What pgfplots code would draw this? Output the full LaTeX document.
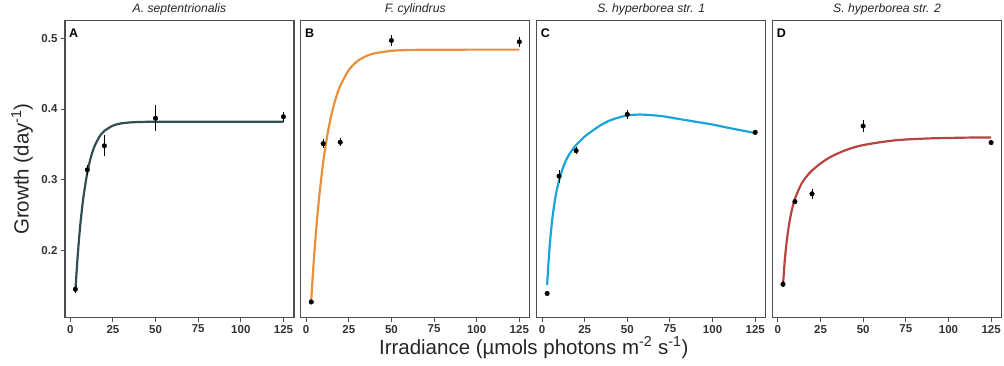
\documentclass[border=0pt]{standalone}
\usepackage{pgfplots}
\pgfplotsset{compat=1.18}
\usepackage{fontspec}
\setmainfont{Liberation Sans}
\definecolor{cA}{HTML}{2F4F55}
\definecolor{cB}{HTML}{E8903C}
\definecolor{cC}{HTML}{1BA3DB}
\definecolor{cD}{HTML}{B8443F}
\definecolor{framec}{HTML}{4D4D4D}

\tikzset{letter/.style={anchor=north west, inner sep=0pt, font=\bfseries\fontsize{12.5}{13}\selectfont, xshift=4pt, yshift=-8pt}}
\pgfplotsset{
  panel/.style={
    scale only axis, width=229pt, height=297pt,
    xmin=-3.1, xmax=131.1, ymin=0.105, ymax=0.525,
    xtick={0,25,50,75,100,125}, ytick={0.2,0.3,0.4,0.5},
    axis line style={framec, line width=1.3pt},
    tick style={framec, line width=1pt},
    tick align=outside, major tick length=4pt,
    xtick pos=bottom, ytick pos=left,
    tick label style={font=\bfseries\fontsize{11.5}{13}\selectfont, text=black!80},
    /pgf/number format/assume math mode=true,
    yticklabel style={/pgf/number format/fixed, /pgf/number format/precision=1, /pgf/number format/fixed zerofill},
    title style={font=\itshape\fontsize{12.2}{14}\selectfont, at={(0.5,1)}, anchor=base, yshift=2.5pt, text=black!85},
    anchor=south west,
  },
  pts/.style={only marks, mark=*, mark size=2.3pt, color=black,
    error bars/.cd, y dir=both, y explicit, error mark=none,
    error bar style={line width=0.9pt, black}},
  fit/.style={no marks, line width=2.2pt, smooth},
}

\pgfplotstableread{
x y e
3 0.145 0.005
10 0.314 0.007
20 0.348 0.015
50 0.387 0.018
125 0.389 0.007
}\ptsA
\pgfplotstableread{
x y e
3 0.127 0.003
10 0.351 0.006
20 0.353 0.006
50 0.497 0.008
125 0.495 0.007
}\ptsB
\pgfplotstableread{
x y e
3 0.139 0.003
10 0.305 0.009
20 0.341 0.005
50 0.3925 0.006
125 0.367 0.004
}\ptsC
\pgfplotstableread{
x y e
3 0.152 0.004
10 0.269 0.004
20 0.280 0.007
50 0.376 0.008
125 0.3525 0.004
}\ptsD

\begin{document}
\begin{tikzpicture}
\path (0,0) rectangle (1004pt,364pt);

\begin{axis}[panel, at={(65pt,48pt)}, title={A. septentrionalis}]
\addplot[fit, cA] coordinates {(3,0.142)(4,0.180)(5,0.212)(6,0.239)(7,0.261)(8,0.280)(10,0.310)(12,0.331)(14,0.346)(16,0.356)(18,0.364)(20,0.369)(25,0.3765)(30,0.3797)(35,0.3810)(40,0.3816)(50,0.3820)(75,0.382)(100,0.382)(125,0.382)};
\addplot[pts] table[x=x, y=y, y error=e] {\ptsA};
\node[letter] at (rel axis cs:0,1) {A};
\end{axis}

\begin{axis}[panel, at={(301pt,48pt)}, title={F. cylindrus}, ytick=\empty]
\addplot[fit, cB] coordinates {(3,0.130)(4,0.1681)(5,0.2021)(6,0.2324)(7,0.2595)(8,0.2836)(10,0.3244)(12,0.3569)(14,0.3827)(16,0.4034)(18,0.4198)(20,0.4328)(25,0.4551)(30,0.4676)(35,0.4747)(40,0.4787)(50,0.4823)(60,0.4835)(75,0.4839)(100,0.484)(125,0.484)};
\addplot[pts] table[x=x, y=y, y error=e] {\ptsB};
\node[letter] at (rel axis cs:0,1) {B};
\end{axis}

\begin{axis}[panel, at={(537pt,48pt)}, title={S. hyperborea str. 1}, ytick=\empty]
\addplot[fit, cC] coordinates {(3,0.151)(4,0.190)(5,0.220)(6,0.244)(7,0.262)(8,0.277)(9,0.289)(10,0.299)(12,0.315)(14,0.327)(16,0.336)(18,0.343)(20,0.349)(25,0.361)(30,0.370)(35,0.378)(40,0.384)(45,0.388)(50,0.391)(55,0.392)(60,0.392)(70,0.390)(80,0.386)(90,0.382)(100,0.378)(110,0.373)(125,0.366)};
\addplot[pts] table[x=x, y=y, y error=e] {\ptsC};
\node[letter] at (rel axis cs:0,1) {C};
\end{axis}

\begin{axis}[panel, at={(773pt,48pt)}, title={S. hyperborea str. 2}, ytick=\empty]
\addplot[fit, cD] coordinates {(3,0.151)(4,0.185)(5,0.209)(6,0.228)(7,0.243)(8,0.255)(9,0.265)(10,0.273)(12,0.285)(14,0.295)(16,0.302)(18,0.308)(20,0.313)(25,0.323)(30,0.331)(35,0.337)(40,0.342)(45,0.346)(50,0.349)(60,0.353)(70,0.356)(80,0.3575)(90,0.3585)(100,0.359)(110,0.3595)(125,0.3598)};
\addplot[pts] table[x=x, y=y, y error=e] {\ptsD};
\node[letter] at (rel axis cs:0,1) {D};
\end{axis}

\node[rotate=90, font=\fontsize{20.5}{23}\selectfont, text=black!85] at (22pt,196.5pt) {Growth (day\textsuperscript{-1})};
\node[anchor=base, font=\fontsize{20.5}{23}\selectfont, text=black!85] at (534pt,11.3pt) {Irradiance (µmols photons m\textsuperscript{-2} s\textsuperscript{-1})};
\end{tikzpicture}
\end{document}
